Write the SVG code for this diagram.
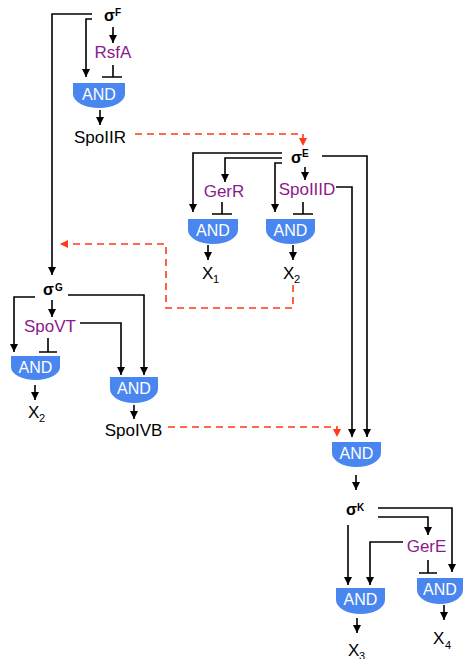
<svg xmlns="http://www.w3.org/2000/svg" width="463" height="659" viewBox="0 0 463 659">
<style>
.ln{fill:none;stroke:#000;stroke-width:1.6;}
.arr{marker-end:url(#ah);}
.rd{fill:none;stroke:#ff3a14;stroke-width:1.6;stroke-dasharray:7 5;marker-end:url(#rh);}
.gate{fill:#4a86f0;}
.gt{font-family:"Liberation Sans",Arial,sans-serif;font-size:16px;fill:#fff;text-anchor:middle;}
.lbl{font-family:"Liberation Sans",Arial,sans-serif;font-size:17px;fill:#000;}
.pp{font-family:"Liberation Sans",Arial,sans-serif;font-size:17px;fill:#8b1a8b;text-anchor:middle;}
.sig{font-family:"Liberation Sans",Arial,sans-serif;font-size:16px;font-weight:bold;fill:#000;}
.sup{font-family:"Liberation Sans",Arial,sans-serif;font-size:10px;font-weight:bold;fill:#000;}
.sub{font-family:"Liberation Sans",Arial,sans-serif;font-size:11px;fill:#000;}
</style>
<defs>
<marker id="ah" markerUnits="userSpaceOnUse" markerWidth="8" markerHeight="8" refX="8" refY="4" orient="auto"><path d="M0,0 L8,4 L0,8 z" fill="#000"/></marker>
<marker id="rh" markerUnits="userSpaceOnUse" markerWidth="8" markerHeight="8" refX="8" refY="4" orient="auto"><path d="M0,0 L8,4 L0,8 z" fill="#ff3a14"/></marker>
</defs>

<g id="connectors">
<path class="ln arr" d="M92,14 H52 V275"/>
<path class="ln arr" d="M92,19 H86 V77"/>
<path class="ln arr" d="M113,27 V43"/>
<path class="ln" d="M113,65 V77 M102,77 H122"/>
<path class="ln arr" d="M100,110 V125"/>
<path class="rd" d="M135,134 H303 V146"/>
<path class="ln arr" d="M282,153 H193 V212"/>
<path class="ln arr" d="M282,158 H225 V182"/>
<path class="ln arr" d="M282,163 H275 V212"/>
<path class="ln arr" d="M305,167 V180"/>
<path class="ln" d="M222,202 V214 M212,214 H232"/>
<path class="ln" d="M303,202 V214 M293,214 H313"/>
<path class="ln arr" d="M208,245 V260"/>
<path class="ln arr" d="M293,245 V260"/>
<path class="ln arr" d="M322,156 H367 V437"/>
<path class="ln arr" d="M336,187 H352 V437"/>
<path class="rd" d="M293,285 V308 H166 V244 H60"/>
<path class="ln arr" d="M35,297 H14 V352"/>
<path class="ln arr" d="M52,300 V317"/>
<path class="ln arr" d="M68,295 H144 V375"/>
<path class="ln arr" d="M80,323 H121 V375"/>
<path class="ln" d="M48,338 V352 M39,352 H57"/>
<path class="ln arr" d="M35,385 V400"/>
<path class="ln arr" d="M134,405 V419"/>
<path class="rd" d="M168,427 H337 V437"/>
<path class="ln arr" d="M356,475 V490"/>
<path class="ln arr" d="M378,508 H452 V572"/>
<path class="ln arr" d="M378,517 H428 V535"/>
<path class="ln arr" d="M348,525 V585"/>
<path class="ln arr" d="M403,542 H370 V585"/>
<path class="ln" d="M428,560 V573 M419,573 H437"/>
<path class="ln arr" d="M357,618 V633"/>
<path class="ln arr" d="M444,605 V620"/>
</g>

<g id="sigmaF"><text class="sig" x="104" y="21">σ</text><text class="sup" x="115" y="16">F</text></g>
<g id="RsfA"><text class="pp" x="113" y="58">RsfA</text></g>
<g id="and1"><path class="gate" d="M73,83 H125 V94 A26,14 0 0 1 73,94 Z"/><text class="gt" x="99" y="100">AND</text></g>
<g id="SpoIIR"><text class="lbl" x="100" y="143" text-anchor="middle">SpoIIR</text></g>

<g id="sigmaE"><text class="sig" x="291" y="163">σ</text><text class="sup" x="302" y="157">E</text></g>
<g id="GerR"><text class="pp" x="224" y="197">GerR</text></g>
<g id="SpoIIID"><text class="pp" x="307" y="195">SpoIIID</text></g>
<g id="and2"><path class="gate" d="M188,219 H238 V230 A25,14 0 0 1 188,230 Z"/><text class="gt" x="213" y="236">AND</text></g>
<g id="and3"><path class="gate" d="M266,219 H315 V230 A24.5,14 0 0 1 266,230 Z"/><text class="gt" x="290.5" y="236">AND</text></g>
<g id="X1"><text class="lbl" x="202" y="279">X</text><text class="sub" x="213" y="283">1</text></g>
<g id="X2a"><text class="lbl" x="283" y="279">X</text><text class="sub" x="294" y="283">2</text></g>

<g id="sigmaG"><text class="sig" x="43" y="295">σ</text><text class="sup" x="55" y="291">G</text></g>
<g id="SpoVT"><text class="pp" x="50" y="332">SpoVT</text></g>
<g id="and4"><path class="gate" d="M11,356 H60 V367 A24.5,13 0 0 1 11,367 Z"/><text class="gt" x="35.5" y="373">AND</text></g>
<g id="X2b"><text class="lbl" x="28" y="418">X</text><text class="sub" x="39" y="422">2</text></g>
<g id="and5"><path class="gate" d="M110,377 H158 V389 A24,14 0 0 1 110,389 Z"/><text class="gt" x="134" y="394">AND</text></g>
<g id="SpoIVB"><text class="lbl" x="133.5" y="436" text-anchor="middle">SpoIVB</text></g>

<g id="and6"><path class="gate" d="M332,442 H381 V453 A24.5,14 0 0 1 332,453 Z"/><text class="gt" x="356.5" y="459">AND</text></g>
<g id="sigmaK"><text class="sig" x="346" y="515">σ</text><text class="sup" x="357" y="511">K</text></g>
<g id="GerE"><text class="pp" x="426.5" y="552">GerE</text></g>
<g id="and7"><path class="gate" d="M336,588 H385 V600 A24.5,14 0 0 1 336,600 Z"/><text class="gt" x="360.5" y="605">AND</text></g>
<g id="and8"><path class="gate" d="M417,578 H463 V590 A23,14 0 0 1 417,590 Z"/><text class="gt" x="440" y="595">AND</text></g>
<g id="X3"><text class="lbl" x="348" y="656">X</text><text class="sub" x="359" y="660">3</text></g>
<g id="X4"><text class="lbl" x="433" y="644">X</text><text class="sub" x="445" y="649">4</text></g>
</svg>
